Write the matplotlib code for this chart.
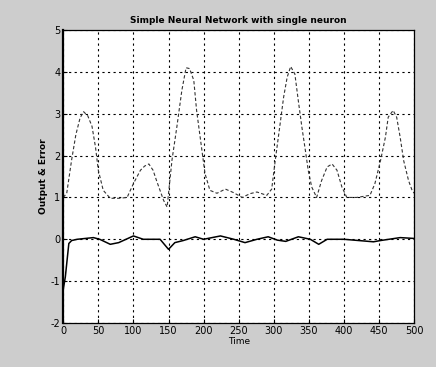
import matplotlib
matplotlib.use("Agg")
import matplotlib.pyplot as plt

plt.rcParams['axes.unicode_minus'] = False

# network output (dashed)
t_out = [0, 5, 12, 18, 24, 29, 35, 41, 46, 50, 57, 67, 80, 91, 100, 110, 116, 122,
         128, 133, 143, 148, 155, 162, 169, 175, 180, 186, 190, 197, 202, 209, 219,
         231, 242, 255, 266, 276, 290, 297, 302, 309, 314, 319, 324, 330, 335, 340,
         345, 349, 354, 361, 368, 376, 383, 390, 397, 404, 418, 437, 444, 452, 459,
         463, 470, 475, 480, 485, 492, 497, 500]
y_out = [1.0, 1.1, 1.9, 2.5, 2.9, 3.05, 2.95, 2.7, 2.2, 1.65, 1.17, 0.98, 0.98, 1.0,
         1.33, 1.65, 1.75, 1.8, 1.65, 1.4, 0.93, 0.77, 1.9, 2.7, 3.56, 4.1, 4.08, 3.8,
         3.08, 2.2, 1.57, 1.17, 1.1, 1.2, 1.12, 1.0, 1.09, 1.13, 1.05, 1.2, 1.88, 2.76,
         3.4, 3.87, 4.13, 3.95, 3.3, 2.68, 2.12, 1.65, 1.25, 1.0, 1.4, 1.73, 1.8, 1.65,
         1.25, 1.0, 1.0, 1.05, 1.33, 1.88, 2.44, 2.92, 3.08, 2.92, 2.44, 1.88, 1.4,
         1.17, 1.1]

# error (solid)
t_err = [0, 3, 8, 12, 20, 43, 52, 67, 79, 100, 114, 138, 150, 159, 171, 188, 200,
         224, 243, 259, 276, 292, 305, 317, 335, 352, 364, 376, 400, 442, 452, 480, 500]
y_err = [-1.2, -0.9, -0.1, -0.03, 0, 0.04, 0, -0.12, -0.08, 0.08, 0, 0, -0.24, -0.08,
         -0.03, 0.06, 0, 0.08, 0, -0.08, 0, 0.06, -0.02, -0.05, 0.06, 0, -0.12, 0, 0,
         -0.06, -0.03, 0.04, 0.02]

xticks = list(range(0, 501, 50))
yticks = list(range(-2, 6))

fig = plt.figure(figsize=(4.36, 3.67), dpi=100, facecolor='#cdcdcd')
ax = fig.add_axes([0.145, 0.12, 0.805, 0.798])
ax.set_facecolor('white')

ax.plot(t_out, y_out, color='#333333', lw=0.8, dashes=(3, 2))
ax.plot(t_err, y_err, color='black', lw=1.1)

ax.set_xlim(0, 500)
ax.set_ylim(-2, 5)
ax.set_xticks(xticks)
ax.set_yticks(yticks)
ax.tick_params(direction='in', labelsize=7, length=3, pad=2)
ax.grid(True, color='black', linestyle=(0, (2, 3)), linewidth=0.8)
for s in ax.spines.values():
    s.set_linewidth(0.9)
ax.spines['left'].set_linewidth(1.6)

ax.set_title('Simple Neural Network with single neuron', fontsize=6.5, pad=5,
             fontweight='bold')
ax.set_xlabel('Time', fontsize=6.5, labelpad=1)
ax.set_ylabel('Output & Error', fontsize=6.5, labelpad=2, fontweight='bold')

fig.savefig('out.png', dpi=100, facecolor=fig.get_facecolor())
